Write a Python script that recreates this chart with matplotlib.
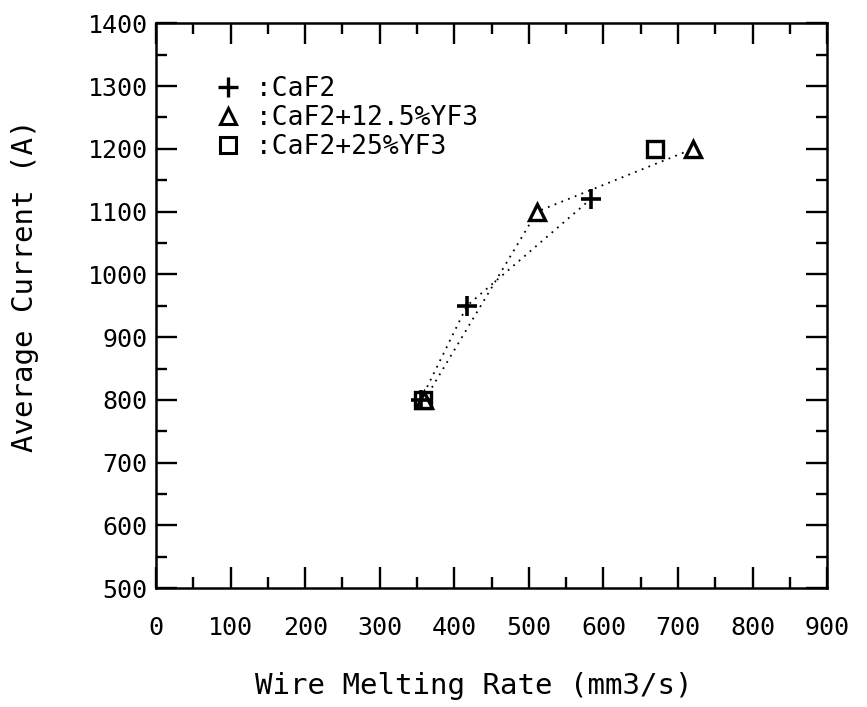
import matplotlib
matplotlib.use("Agg")
import matplotlib.pyplot as plt
from matplotlib.lines import Line2D
from matplotlib.ticker import MultipleLocator

# values
caf2_x = [355, 417, 583]
caf2_y = [800, 950, 1120]
yf125_x = [360, 511, 720]
yf125_y = [800, 1100, 1200]
yf25_x = [358, 669]
yf25_y = [800, 1200]

series_labels = [" :CaF2", " :CaF2+12.5%YF3", " :CaF2+25%YF3"]
x_ticks = [0, 100, 200, 300, 400, 500, 600, 700, 800, 900]
y_ticks = [500, 600, 700, 800, 900, 1000, 1100, 1200, 1300, 1400]

plt.rcParams['font.family'] = ['DejaVu Sans Mono']

fig = plt.figure(figsize=(8.67, 7.07), dpi=100)
ax = fig.add_axes([0.180, 0.168, 0.774, 0.799])

dots = (0, (1, 3))
# squares first so the plus / triangle sit on top at 800 A
ax.plot(yf25_x, yf25_y, color='black', ls='none',
        marker='s', ms=11, mew=2.4, mfc='white', zorder=2)
ax.plot(caf2_x, caf2_y, color='black', lw=1.3, ls=dots,
        marker='+', ms=14, mew=2.6, zorder=4)
ax.plot(yf125_x, yf125_y, color='black', lw=1.3, ls=dots,
        marker='^', ms=12, mew=2.4, mfc='white', zorder=3)

ax.set_xlim(0, 900)
ax.set_ylim(500, 1400)
ax.set_xticks(x_ticks)
ax.set_yticks(y_ticks)
ax.xaxis.set_minor_locator(MultipleLocator(50))
ax.yaxis.set_minor_locator(MultipleLocator(50))
ax.tick_params(which='both', direction='in', top=True, right=True,
               width=1.7, labelsize=18)
ax.tick_params(which='major', length=15)
ax.tick_params(which='minor', length=8)
ax.tick_params(axis='x', pad=20)
ax.tick_params(axis='y', pad=6)
for s in ax.spines.values():
    s.set_linewidth(1.8)

ax.set_xlabel("Wire Melting Rate (mm3/s)", fontsize=21)
ax.set_ylabel("Average Current (A)", fontsize=21)
ax.xaxis.set_label_coords(0.474, -0.148)
ax.yaxis.set_label_coords(-0.175, 0.536)

handles = [
    Line2D([], [], color='black', ls='none', marker='+', ms=14, mew=2.4),
    Line2D([], [], color='black', ls='none', marker='^', ms=12, mew=2.2, mfc='white'),
    Line2D([], [], color='black', ls='none', marker='s', ms=11, mew=2.2, mfc='white'),
]
ax.legend(handles, series_labels, loc='upper left', bbox_to_anchor=(0.07, 0.93),
          frameon=False, fontsize=19, handlelength=0.9, handletextpad=0.0,
          labelspacing=0.12, borderpad=0)

fig.savefig("out.png", dpi=100)
